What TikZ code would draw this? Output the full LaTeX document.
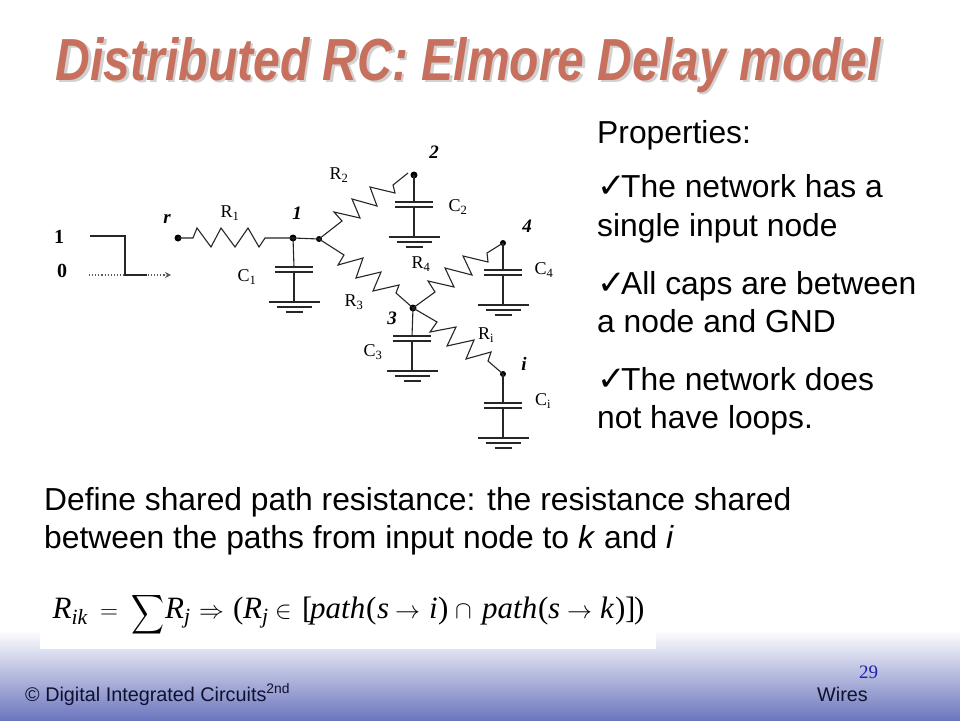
\documentclass[tikz,border=0pt]{standalone}
\usepackage{fontspec}
\usepackage{amsmath}
\usepackage{graphicx}
\setmainfont{Liberation Sans}
\newfontfamily\serifb{Liberation Serif}
\newfontfamily\djv{DejaVu Sans}
\usetikzlibrary{arrows.meta}
\definecolor{titlec}{HTML}{C8705E}
\definecolor{wirec}{HTML}{262626}
\definecolor{footblue}{HTML}{6C76BE}
\definecolor{footink}{HTML}{10102E}
\definecolor{pagec}{HTML}{2020B0}
\tikzset{
  wire/.style={draw=wirec,line width=1.1pt,line join=miter},
  thick wire/.style={draw=wirec,line width=1.5pt},
  dot/.style={circle,fill=black,inner sep=0pt,minimum size=7pt},
  lab/.style={font=\serifb\fontsize{18}{18}\selectfont,inner sep=0pt},
  nodelab/.style={font=\serifb\bfseries\itshape\fontsize{19}{19}\selectfont,inner sep=0pt},
  body/.style={font=\fontsize{31.8}{38}\selectfont,anchor=base west,inner sep=0pt},
  titletext/.style={font=\bfseries\itshape\fontsize{54}{54}\selectfont,xscale=0.89,yscale=1.1,inner sep=0pt},
  foot/.style={font=\fontsize{19.8}{20}\selectfont,text=footink,anchor=base west,inner sep=0pt},
  pics/capgnd/.style={code={
    \draw[thick wire] (-19,0) -- (19,0) (-19,5) -- (19,5);
    \draw[wire] (0,5) -- (0,35);
    \draw[thick wire] (-25.5,35) -- (25.5,35) (-17.5,40) -- (17.5,40) (-8.5,45) -- (8.5,45);
  }}
}
\newcommand{\sub}[2]{#1\textsubscript{#2}}
\newcommand{\chk}{\makebox[24pt][l]{\djv\fontsize{34}{34}\selectfont ✓}}
\newcommand{\ital}[1]{{\serifb\itshape #1}}
\newcommand{\seg}[2]{\makebox[#1pt][l]{#2}}
\newcommand{\msym}[1]{{\fontsize{27}{27}\selectfont$#1$}}
\begin{document}
\begin{tikzpicture}[x=1pt,y=-1pt]
\useasboundingbox (0,0) rectangle (960,720);
\fill[white] (0,0) rectangle (960,720);
\shade[top color=white,bottom color=footblue] (0,630) rectangle (960,720);
\fill[white] (40,585) rectangle (656,649);
% title
\node[titletext,text=black!18] (titleshadow) at (471,67) {Distributed RC: Elmore Delay model};
\node[titletext,text=titlec] (title) at (468.5,65) {Distributed RC: Elmore Delay model};
% step input
\node[font=\serifb\bfseries\fontsize{20}{20}\selectfont,inner sep=0pt] (one) at (59,237) {1};
\node[font=\serifb\bfseries\fontsize{20}{20}\selectfont,inner sep=0pt] (zero) at (62,271) {0};
\coordinate (sa) at (90,236); \coordinate (sb) at (125,236); \coordinate (sc) at (125,275); \coordinate (sd) at (147,275);
\coordinate (da) at (89,275); \coordinate (de) at (171,275);
\draw[draw=black!65,line width=1.1pt,dotted,-{Stealth[length=6pt,width=6pt]}] (da) -- (de);
\draw[draw=wirec,line width=1.3pt] (sa) -- (sb) -- (sc) -- (sd);
% nodes
\node[dot] (nr) at (178,238) {};
\node[dot] (n1) at (293,238) {};
\node[dot,minimum size=6pt] (nj) at (319,239) {};
\node[dot] (n2) at (414,175) {};
\node[dot] (n3) at (413,308) {};
\node[dot,minimum size=6pt] (n4) at (503,243) {};
\node[dot,minimum size=6pt] (ni) at (503,374) {};
% resistors
\draw[wire] (nr.center) -- (193,238) -- (197,228) -- (211,247) -- (221,228) -- (235,247) -- (248,228) -- (259,247) -- (265,238) -- (n1.center) -- (nj.center);
\draw[wire] (nj.center) -- (342,221) -- (334,212) -- (360,218) -- (352,199) -- (377,206) -- (370,187) -- (395,193) -- (393,185) -- (408,173);
\draw[wire] (nj.center) -- (344,255) -- (338,265) -- (363,258) -- (356,278) -- (381,272) -- (373,291) -- (399,285) -- (396,293) -- (n3.center);
\draw[wire] (n3.center) -- (435,292) -- (428,281) -- (454,287) -- (445,268) -- (472,275) -- (463,256) -- (488,262) -- (487,253) -- (n4.center);
\draw[wire] (n3.center) -- (437,322) -- (430,332) -- (456,327) -- (447,346) -- (474,340) -- (466,359) -- (491,352) -- (488,361) -- (ni.center);
% capacitors
\pic at (294,267) {capgnd};
\draw[wire] (n1.center) -- (294,267);
\pic at (414,202) {capgnd};
\draw[wire] (n2.center) -- (414,202);
\pic at (412,336) {capgnd};
\draw[wire] (n3.center) -- (412,336);
\pic at (503,270) {capgnd};
\draw[wire] (n4.center) -- (503,270);
\pic at (503,403) {capgnd};
\draw[wire] (ni.center) -- (503,403);
% labels
\node[lab] (lr1) at (230,213) {\sub{R}{1}};
\node[lab] (lc1) at (247,277) {\sub{C}{1}};
\node[lab] (lr2) at (339,175) {\sub{R}{2}};
\node[lab] (lc2) at (458,207) {\sub{C}{2}};
\node[lab] (lr3) at (354,302) {\sub{R}{3}};
\node[lab] (lc3) at (373,352) {\sub{C}{3}};
\node[lab] (lr4) at (421,264) {\sub{R}{4}};
\node[lab] (lc4) at (544,270) {\sub{C}{4}};
\node[lab] (lri) at (486,335) {\sub{R}{i}};
\node[lab] (lci) at (543,401) {\sub{C}{i}};
\node[nodelab] (tr) at (167,219) {r};
\node[nodelab] (t1) at (297,213) {1};
\node[nodelab] (t2) at (434,152) {2};
\node[nodelab] (t3) at (392,318) {3};
\node[nodelab] (t4) at (527,226) {4};
\node[nodelab] (ti) at (524,364) {i};
% right text
\node[body] (p0) at (597,143) {Properties:};
\node[body] (p1) at (597,197) {\chk The network has a};
\node[body] (p1b) at (597,236) {single input node};
\node[body] (p2) at (597,294) {\chk All caps are between};
\node[body] (p2b) at (597,332) {a node and GND};
\node[body] (p3) at (597,390) {\chk The network does};
\node[body] (p3b) at (597,428) {not have loops.};
% lower text
\node[body] (d1) at (44,510) {Define shared path resistance: the resistance shared};
\node[body] (d2) at (44,548) {between the paths from input node to \textit{k} and \textit{i}};
% formula
\node[inner sep=0pt,anchor=base west,font=\serifb\fontsize{31}{31}\selectfont] (eq) at (52.5,618) {%
\seg{47.5}{\ital{R}\textsubscript{\ital{ik}}}%
\seg{31}{\msym{=}}%
\seg{34}{\raisebox{-19pt}{\resizebox*{33pt}{44pt}{\raisebox{\depth}{$\displaystyle\sum$}}}}%
\seg{34}{\ital{R}\textsubscript{\ital{j}}}%
\seg{34}{\msym{\Rightarrow}}%
\seg{10}{(}%
\seg{32}{\ital{R}\textsubscript{\ital{j}}}%
\seg{27}{\msym{\in}}%
\seg{8}{[}%
\seg{56}{\ital{path}}%
\seg{11}{(}%
\seg{18}{\ital{s}}%
\seg{34}{\msym{\to}}%
\seg{9}{\ital{i}}%
\seg{17}{)}%
\seg{27}{\msym{\cap}}%
\seg{56}{\ital{path}}%
\seg{10}{(}%
\seg{19}{\ital{s}}%
\seg{33}{\msym{\to}}%
\seg{15}{\ital{k}}%
\seg{10}{)}%
\seg{9}{]}%
)};
% footer
\node[foot] (f1) at (25,701) {© Digital Integrated Circuits\textsuperscript{2nd}};
\node[foot] (f2) at (817,701) {Wires};
\node[font=\serifb\fontsize{19}{19}\selectfont,text=pagec,inner sep=0pt] (pg) at (868.5,672) {29};
\end{tikzpicture}
\end{document}
